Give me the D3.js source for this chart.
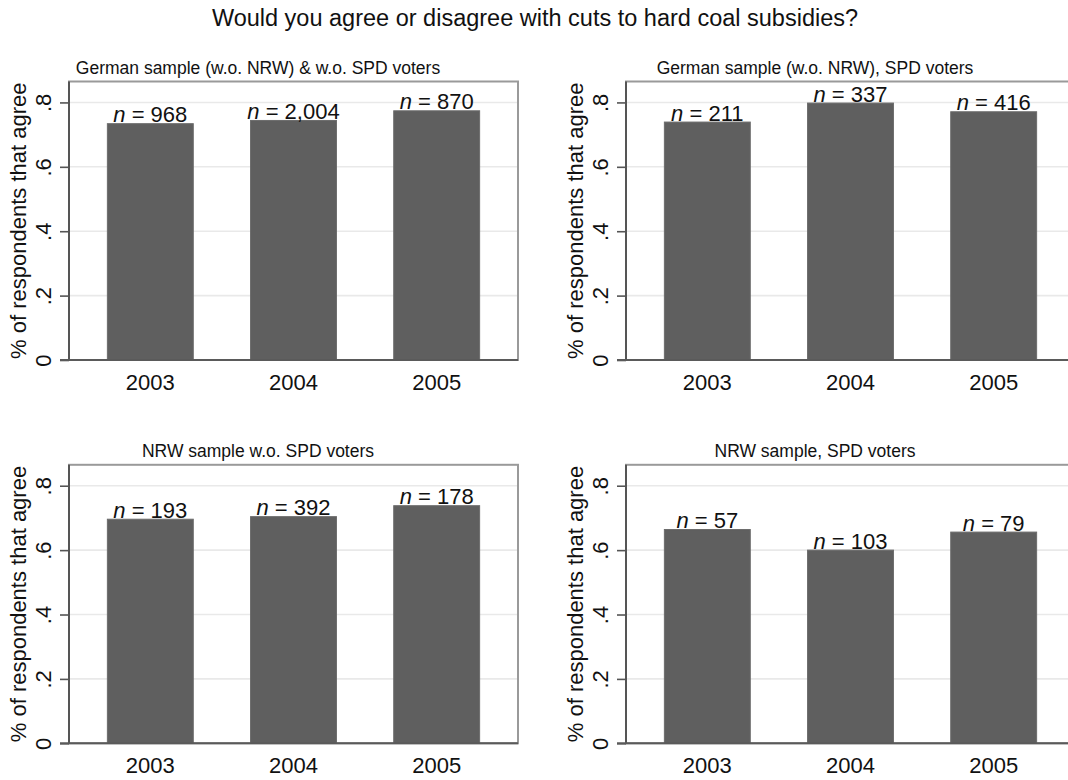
<!DOCTYPE html>
<html>
<head>
<meta charset="utf-8">
<script src="https://cdn.jsdelivr.net/npm/d3@7"></script>
<style>
  html, body { margin: 0; padding: 0; background: #fff; }
  svg { display: block; font-family: "Liberation Sans", Arial, sans-serif; }
</style>
</head>
<body>
<svg id="chart" width="1068" height="780"></svg>
<script>
// Survey years on the x axis
const years = ["2003", "2004", "2005"];

// Subgraph titles, in reading order
const panelTitles = [
  "German sample (w.o. NRW) & w.o. SPD voters",
  "German sample (w.o. NRW), SPD voters",
  "NRW sample w.o. SPD voters",
  "NRW sample, SPD voters"
];

// Share of respondents that agree, per panel and year
const shareGermanNoSPD = [0.734, 0.744, 0.774];
const shareGermanSPD   = [0.739, 0.798, 0.771];
const shareNRWNoSPD    = [0.696, 0.704, 0.738];
const shareNRWSPD      = [0.664, 0.600, 0.656];

// Sample sizes printed above the bars
const nGermanNoSPD = [968, 2004, 870];
const nGermanSPD   = [211, 337, 416];
const nNRWNoSPD    = [193, 392, 178];
const nNRWSPD      = [57, 103, 79];

// Y axis ticks
const yTicks = [0, 0.2, 0.4, 0.6, 0.8];

const mainTitle = "Would you agree or disagree with cuts to hard coal subsidies?";
const yTitle = "% of respondents that agree";

const shares = [shareGermanNoSPD, shareGermanSPD, shareNRWNoSPD, shareNRWSPD];
const counts = [nGermanNoSPD, nGermanSPD, nNRWNoSPD, nNRWSPD];

const svg = d3.select("#chart");

// Layout of the 2x2 grid
const plotW = 449, plotH = 278.5;
const colLeft = [69, 626];
const rowTop = [81.5, 464.8];
const yMax = 0.865;

const fmtTick = v => v === 0 ? "0" : d3.format(".1f")(v).replace(/^0/, "");
const fmtN = d3.format(",");

svg.append("text")
  .attr("x", 535).attr("y", 26)
  .attr("text-anchor", "middle")
  .attr("font-size", 23.5)
  .attr("fill", "#111")
  .text(mainTitle);

panelTitles.forEach((title, i) => {
  const x0 = colLeft[i % 2], y0 = rowTop[Math.floor(i / 2)];
  const g = svg.append("g").attr("transform", `translate(${x0},${y0})`);

  const x = d3.scaleBand().domain(years).range([0, plotW])
    .paddingInner(0.4).paddingOuter(0.268);
  const y = d3.scaleLinear().domain([0, yMax]).range([plotH, 0]);

  // gridlines
  g.append("g").selectAll("line").data(yTicks.filter(t => t > 0)).join("line")
    .attr("x1", 0).attr("x2", plotW)
    .attr("y1", d => y(d)).attr("y2", d => y(d))
    .attr("stroke", "#e9e9e9").attr("stroke-width", 1.6);

  // outer frame
  g.append("rect")
    .attr("x", 0).attr("y", 0).attr("width", plotW).attr("height", plotH)
    .attr("fill", "none").attr("stroke", "#9a9a9a").attr("stroke-width", 2);

  const vals = shares[i], ns = counts[i];

  // bars
  g.append("g").selectAll("rect").data(years).join("rect")
    .attr("x", d => x(d))
    .attr("width", x.bandwidth())
    .attr("y", (d, j) => y(vals[j]))
    .attr("height", (d, j) => plotH - y(vals[j]))
    .attr("fill", "#5f5f5f")
    .attr("stroke", "#6c6c6c").attr("stroke-width", 1);

  // y axis
  const yAxis = g.append("g")
    .call(d3.axisLeft(y).tickValues(yTicks).tickSize(9).tickFormat(fmtTick));
  yAxis.select(".domain").remove();
  yAxis.selectAll(".tick line").attr("stroke", "#555").attr("stroke-width", 1.6);
  yAxis.selectAll(".tick text")
    .attr("x", null).attr("dy", null)
    .attr("transform", "translate(-18,0) rotate(-90)")
    .attr("text-anchor", "middle")
    .attr("font-size", 22)
    .attr("font-family", "Liberation Sans, Arial, sans-serif")
    .attr("fill", "#111");

  // axis lines (left and bottom)
  g.append("line").attr("x1", 0).attr("x2", 0).attr("y1", 0).attr("y2", plotH)
    .attr("stroke", "#555").attr("stroke-width", 2);
  g.append("line").attr("x1", -9).attr("x2", plotW).attr("y1", plotH).attr("y2", plotH)
    .attr("stroke", "#5a5a5a").attr("stroke-width", 2);

  // x labels
  const xAxis = g.append("g").attr("transform", `translate(0,${plotH})`)
    .call(d3.axisBottom(x).tickSize(0).tickPadding(0));
  xAxis.select(".domain").remove();
  xAxis.selectAll(".tick text")
    .attr("dy", null).attr("y", 30)
    .attr("font-size", 22)
    .attr("font-family", "Liberation Sans, Arial, sans-serif")
    .attr("fill", "#111");

  // sample size labels
  const lab = g.append("g").selectAll("text").data(years).join("text")
    .attr("x", d => x(d) + x.bandwidth() / 2)
    .attr("y", (d, j) => y(vals[j]) - 1.5)
    .attr("text-anchor", "middle")
    .attr("font-size", 22)
    .attr("fill", "#111");
  lab.append("tspan").attr("font-style", "italic").text("n");
  lab.append("tspan").text((d, j) => " = " + fmtN(ns[j]));

  // y title
  g.append("text")
    .attr("transform", `translate(-43,${plotH / 2}) rotate(-90)`)
    .attr("text-anchor", "middle")
    .attr("font-size", 22)
    .attr("fill", "#111")
    .text(yTitle);

  // subgraph title
  svg.append("text")
    .attr("x", x0 - 69 + 258).attr("y", y0 - 8)
    .attr("text-anchor", "middle")
    .attr("font-size", 17.5)
    .attr("fill", "#111")
    .text(title);
});
</script>
</body>
</html>
